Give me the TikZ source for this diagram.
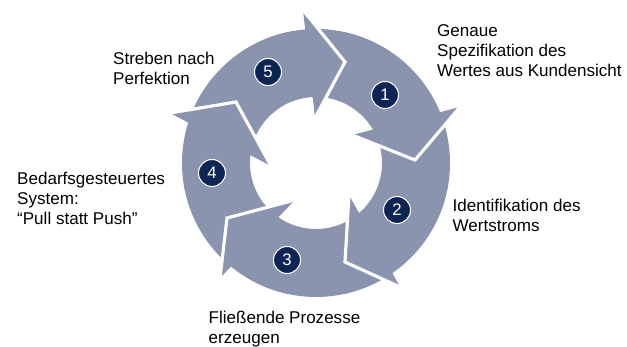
\documentclass[tikz,border=0pt]{standalone}
\usepackage{fontspec}
\setmainfont{Liberation Sans}
\usepackage{tikz}
\definecolor{arrowgray}{RGB}{139,148,174}
\definecolor{dotblue}{RGB}{12,37,84}

\begin{document}
\begin{tikzpicture}[thick,
  numdot/.style={circle,fill=dotblue,draw=white,line width=0.6pt,text=white,
    minimum size=0.54cm,inner sep=0pt,font=\fontsize{9.5}{9.5}\selectfont},
  label/.style={anchor=base west,align=left,inner sep=0pt,
    font=\fontsize{9.7}{11.4}\selectfont},
  gap/.style={draw=white,line width=1.8pt,line join=miter}]
%%Location
\useasboundingbox (-6.32,-3.68) rectangle (6.22,3.26);
%%Ring
\fill[arrowgray,even odd rule] (0,0) circle (2.68) (0,0) circle (1.32);
%%Heads
\fill[arrowgray] (-0.26,3.06)--(0.58,2.02)--(-0.02,0.90)--cycle;
\draw[gap] (-0.26,3.06)--(0.58,2.02)--(-0.02,0.90);
\fill[arrowgray] (2.88,1.12)--(1.98,0.06)--(0.72,0.56)--cycle;
\draw[gap] (2.88,1.12)--(1.98,0.06)--(0.72,0.56);
\fill[arrowgray] (1.68,-2.48)--(0.58,-1.98)--(0.66,-0.64)--cycle;
\draw[gap] (1.68,-2.48)--(0.58,-1.98)--(0.66,-0.64);
\fill[arrowgray] (-1.92,-2.30)--(-1.78,-1.10)--(-0.42,-0.74)--cycle;
\draw[gap] (-1.92,-2.30)--(-1.78,-1.10)--(-0.42,-0.74);
\fill[arrowgray] (-2.92,1.00)--(-1.60,1.22)--(-0.90,-0.06)--cycle;
\draw[gap] (-2.92,1.00)--(-1.60,1.22)--(-0.90,-0.06);
%%Numbers
\node[numdot] (n1) at (1.38,1.36) {1};
\node[numdot] (n2) at (1.62,-0.94) {2};
\node[numdot] (n3) at (-0.58,-1.94) {3};
\node[numdot] (n4) at (-2.08,-0.20) {4};
\node[numdot] (n5) at (-0.96,1.82) {5};
%%Labels (anchored at the last line)
\node[label] (l1) at (2.41,1.73) {Genaue\\Spezifikation des\\Wertes aus Kundensicht};
\node[label] (l2) at (2.72,-1.38) {Identifikation des\\Wertstroms};
\node[label] (l3) at (-2.16,-3.62) {Fließende Prozesse\\erzeugen};
\node[label] (l4) at (-5.99,-1.24) {Bedarfsgesteuertes\\System:\\“Pull statt Push”};
\node[label] (l5) at (-4.07,1.56) {Streben nach\\Perfektion};
\end{tikzpicture}
\end{document}
